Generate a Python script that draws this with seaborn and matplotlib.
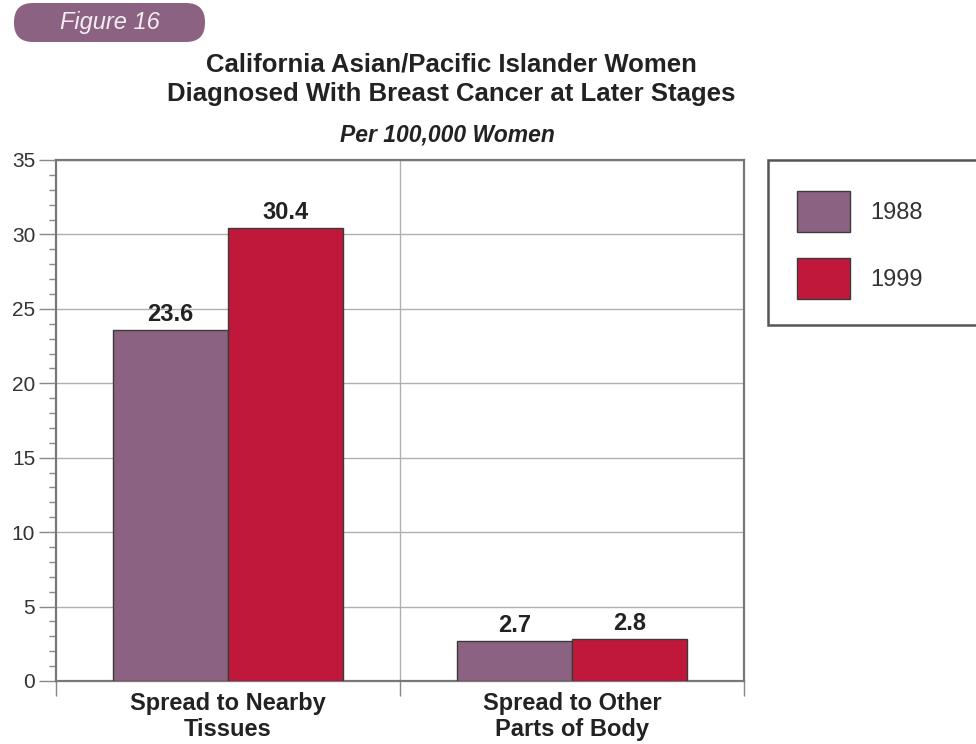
import matplotlib
matplotlib.use("Agg")
import matplotlib.pyplot as plt
import matplotlib.patches as mpatches
import seaborn as sns
import pandas as pd
from matplotlib.ticker import MultipleLocator

categories = ["Spread to Nearby\nTissues", "Spread to Other\nParts of Body"]
years = ["1988", "1999"]
values_1988 = [23.6, 2.7]
values_1999 = [30.4, 2.8]
value_labels = ["23.6", "2.7", "30.4", "2.8"]

title_lines = "California Asian/Pacific Islander Women\nDiagnosed With Breast Cancer at Later Stages"
subtitle = "Per 100,000 Women"
badge = "Figure 16"

df = pd.DataFrame({
    "category": categories * 2,
    "year": [years[0]] * 2 + [years[1]] * 2,
    "value": values_1988 + values_1999,
})

sns.set_theme(style="white")
plt.rcParams["font.family"] = ["Liberation Sans", "DejaVu Sans"]

W, H = 976, 744
fig = plt.figure(figsize=(W / 100, H / 100), dpi=100)
ax = fig.add_axes([56 / W, 1 - 681 / H, (744 - 56) / W, (681 - 160) / H])

purple = "#8B6282"
red = "#C0183A"
sns.barplot(data=df, x="category", y="value", hue="year", palette=[purple, red],
            saturation=1, width=0.67, edgecolor="#3a3a3a", linewidth=1.0, ax=ax,
            legend=False, zorder=3)

for cont, labs in zip(ax.containers, [value_labels[:2], value_labels[2:]]):
    ax.bar_label(cont, labels=labs, padding=3, fontsize=17, fontweight="bold",
                 color="#222222")

ax.set_xlim(-0.5, 1.5)
ax.set_ylim(0, 35)
ax.yaxis.set_major_locator(MultipleLocator(5))
ax.yaxis.set_minor_locator(MultipleLocator(1))
ax.grid(axis="y", which="major", color="#b0b0b0", linewidth=1.0, zorder=0)
ax.axvline(0.5, color="#b0b0b0", linewidth=1.0, zorder=0)

ax.set_xticks([-0.5, 0.5, 1.5])
ax.set_xticklabels([])
ax.set_xticks([0, 1], minor=True)
ax.set_xticklabels(categories, minor=True, fontsize=17, fontweight="bold", color="#222222",
                   linespacing=1.15)
ax.tick_params(axis="x", which="major", length=11, width=1, color="#888888", direction="out", bottom=True)
ax.tick_params(axis="x", which="minor", length=0, pad=8, bottom=True)
ax.tick_params(axis="y", which="major", length=12, width=1, color="#888888", direction="out",
               labelsize=15, labelcolor="#333333", left=True, pad=3)
ax.tick_params(axis="y", which="minor", length=5, width=1, color="#888888", direction="out", left=True)
ax.set_xlabel("")
ax.set_ylabel("")
for s in ax.spines.values():
    s.set_color("#777777")
    s.set_linewidth(1.6)
    s.set_visible(True)

# Title and subtitle
fig.text(451 / W, 1 - 79 / H, title_lines, ha="center", va="center", fontsize=18.5,
         fontweight="bold", color="#222222", linespacing=1.3)
fig.text(447 / W, 1 - 135 / H, subtitle, ha="center", va="center", fontsize=16.5,
         fontweight="bold", style="italic", color="#222222")

# Figure badge
badge_patch = mpatches.FancyBboxPatch((14, H - 42), 191, 39,
                                      boxstyle="round,pad=0,rounding_size=19",
                                      transform=None, facecolor="#8B6282", edgecolor="none")
fig.patches.append(badge_patch)
fig.text(110 / W, 1 - 23 / H, badge, ha="center", va="center", fontsize=17,
         style="italic", color="#f4eef2")

# Legend
frame = mpatches.Rectangle((768, H - 325), 230, 165, transform=None, facecolor="white",
                           edgecolor="#555555", linewidth=1.8)
fig.patches.append(frame)
handles = [mpatches.Patch(facecolor=purple, edgecolor="#3a3a3a", linewidth=1.0, label=years[0]),
           mpatches.Patch(facecolor=red, edgecolor="#3a3a3a", linewidth=1.0, label=years[1])]
fs = 17
px = fs * 100 / 72
hh = (41 / px - 0.245) / 0.65
leg = fig.legend(handles=handles, loc="upper left", bbox_to_anchor=(790 / W, 1 - 184 / H),
                 frameon=False, fontsize=fs, handlelength=53 / px, handleheight=hh,
                 labelspacing=26 / px, handletextpad=20 / px, borderpad=7 / px,
                 borderaxespad=0)
for t in leg.get_texts():
    t.set_color("#333333")

fig.savefig("out.png", dpi=100)
